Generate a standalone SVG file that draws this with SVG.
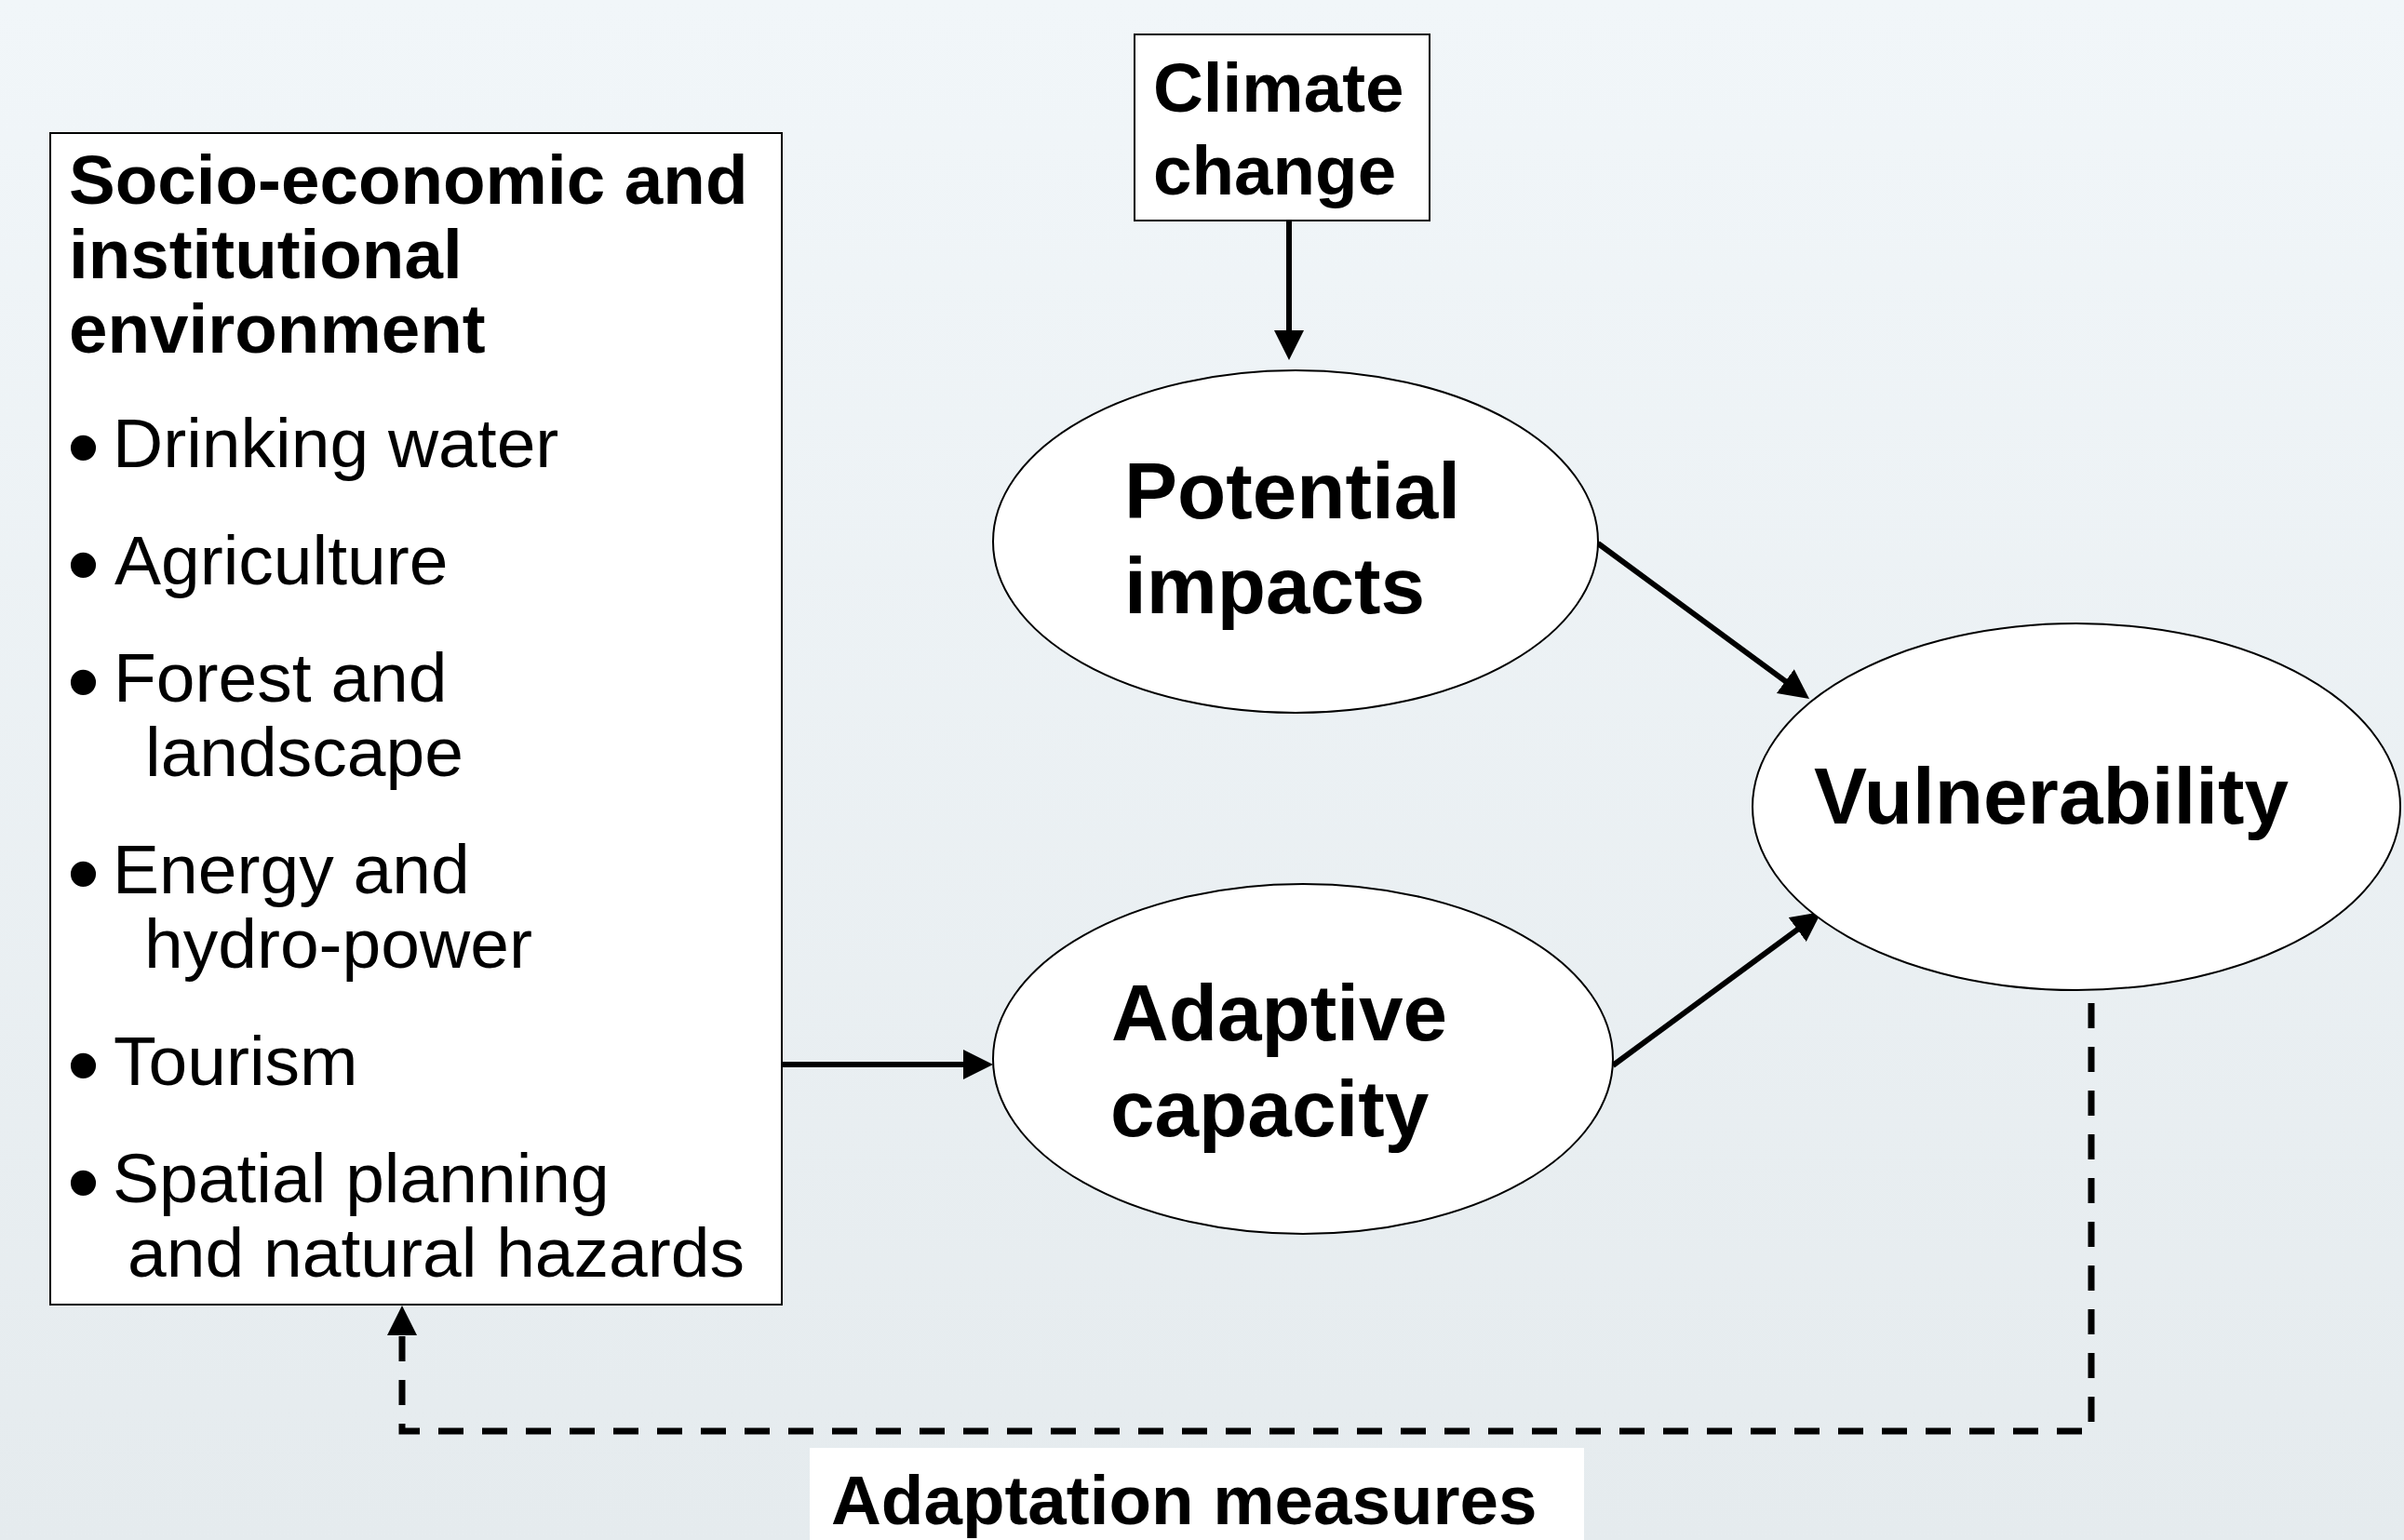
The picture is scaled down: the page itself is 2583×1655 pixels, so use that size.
<svg xmlns="http://www.w3.org/2000/svg" width="2583" height="1655" viewBox="0 0 2583 1655">
  <defs>
    <linearGradient id="bg" x1="0" y1="0" x2="0" y2="1">
      <stop offset="0" stop-color="#f1f6f9"/>
      <stop offset="1" stop-color="#e5ebee"/>
    </linearGradient>
    <marker id="head" markerUnits="userSpaceOnUse" viewBox="0 0 32 32" markerWidth="32" markerHeight="32" refX="12" refY="16" orient="auto">
      <path d="M0,0 L32,16 L0,32 Z" fill="#000"/>
    </marker>
    <style>
      text { font-family: "Liberation Sans", Arial, Helvetica, sans-serif; fill: #000; }
      .b { font-weight: bold; font-size: 74.6px; }
      .e { font-weight: bold; font-size: 85.5px; }
      .r { font-size: 75px; }
      .dot { font-size: 100px; }
      .frame { fill: #fff; stroke: #000; stroke-width: 2; }
      .link { fill: none; stroke: #000; stroke-width: 6; marker-end: url(#head); }
      .dash { stroke-width: 7; stroke-dasharray: 27 20; }
    </style>
  </defs>

  <rect x="0" y="0" width="2583" height="1655" fill="url(#bg)"/>

  <!-- connectors -->
  <g id="connectors">
    <line class="link" x1="1385" y1="238" x2="1385" y2="367"/>
    <line class="link" x1="1717" y1="584" x2="1927.9" y2="739.2"/>
    <line class="link" x1="1733" y1="1145" x2="1940.9" y2="991.9"/>
    <line class="link" x1="841" y1="1144" x2="1047" y2="1144"/>
    <path class="link dash" d="M2247,1078 V1538 H432 V1423"/>
  </g>

  <!-- sectors box -->
  <g id="environment">
    <rect class="frame" x="54" y="143" width="786" height="1259"/>
    <text class="b" x="74" y="219">Socio-economic and</text>
    <text class="b" x="74" y="299">institutional</text>
    <text class="b" x="74" y="379">environment</text>

    <text class="dot" x="72" y="515">•</text>
    <text class="r" x="121" y="502">Drinking water</text>

    <text class="dot" x="72" y="641">•</text>
    <text class="r" x="123" y="628">Agriculture</text>

    <text class="dot" x="72" y="767">•</text>
    <text class="r" x="122" y="754">Forest and</text>
    <text class="r" x="156" y="834">landscape</text>

    <text class="dot" x="72" y="973">•</text>
    <text class="r" x="121" y="960">Energy and</text>
    <text class="r" x="155" y="1040">hydro-power</text>

    <text class="dot" x="72" y="1179">•</text>
    <text class="r" x="122" y="1166">Tourism</text>

    <text class="dot" x="72" y="1305">•</text>
    <text class="r" x="121" y="1292">Spatial planning</text>
    <text class="r" x="137" y="1372">and natural hazards</text>
  </g>

  <g id="climate">
    <rect class="frame" x="1219" y="37" width="317" height="200"/>
    <text class="b" x="1239" y="120">Climate</text>
    <text class="b" x="1239" y="209">change</text>
  </g>

  <g id="impacts">
    <ellipse class="frame" cx="1392" cy="582" rx="325" ry="184"/>
    <text class="e" x="1208" y="557">Potential</text>
    <text class="e" x="1208" y="659">impacts</text>
  </g>

  <g id="capacity">
    <ellipse class="frame" cx="1400" cy="1138" rx="333" ry="188"/>
    <text class="e" x="1194" y="1118">Adaptive</text>
    <text class="e" x="1193" y="1221">capacity</text>
  </g>

  <g id="vulnerability">
    <ellipse class="frame" cx="2231" cy="867" rx="348" ry="197"/>
    <text class="e" x="1949" y="885">Vulnerability</text>
  </g>

  <g id="measures">
    <rect x="870" y="1556" width="832" height="99" fill="#fff"/>
    <text class="b" x="893" y="1638">Adaptation measures</text>
  </g>
</svg>
